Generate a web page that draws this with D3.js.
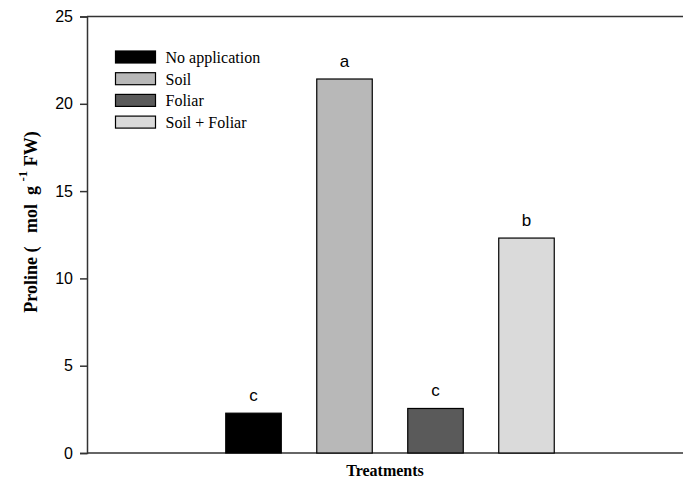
<!DOCTYPE html>
<html>
<head>
<meta charset="utf-8">
<script src="https://cdn.jsdelivr.net/npm/d3@7"></script>
<style>
  body { margin: 0; background: #fff; }
  svg { display: block; }
</style>
</head>
<body>
<svg width="683" height="479"></svg>
<script>
var treatments = ["No application", "Soil", "Foliar", "Soil + Foliar"];
var proline = [2.28, 21.42, 2.55, 12.31];
var letters = ["c", "a", "c", "b"];
var colors = ["#000000", "#b8b8b8", "#5a5a5a", "#dadada"];
var yTicks = [0, 5, 10, 15, 20, 25];

var svg = d3.select("svg"),
    width = +svg.attr("width"),
    height = +svg.attr("height");

var plotLeft = 87, plotRight = 683, plotTop = 16.5, plotBottom = 453;

// bar positions are index based, axis runs a bit wider on both sides
var x = d3.scaleLinear()
    .domain([-1.83, 4.72])
    .range([plotLeft, plotRight]);

var y = d3.scaleLinear()
    .domain([0, 25])
    .range([plotBottom, plotTop]);

var barW = x(0.61) - x(0);

// frame lines (top and bottom), left axis
svg.append("line")
    .attr("x1", plotLeft).attr("x2", plotRight)
    .attr("y1", plotTop).attr("y2", plotTop)
    .attr("stroke", "#333").attr("stroke-width", 1.5);

svg.append("line")
    .attr("x1", plotLeft).attr("x2", plotRight)
    .attr("y1", plotBottom).attr("y2", plotBottom)
    .attr("stroke", "#333").attr("stroke-width", 1.5);

var yAxis = svg.append("g")
    .attr("transform", "translate(" + plotLeft + ",0)")
    .call(d3.axisLeft(y).tickValues(yTicks).tickSize(7).tickPadding(7));

yAxis.select(".domain").attr("stroke", "#333").attr("stroke-width", 1.5);
yAxis.selectAll(".tick line").attr("stroke", "#333").attr("stroke-width", 1.5);
yAxis.selectAll(".tick text")
    .style("font-family", "'Liberation Sans', Arial, sans-serif")
    .style("font-size", "16px")
    .attr("fill", "#000");

// bars
svg.append("g")
    .selectAll("rect")
    .data(proline)
    .enter().append("rect")
        .attr("x", function(d, i) { return x(i) - barW / 2; })
        .attr("y", function(d) { return y(d); })
        .attr("width", barW)
        .attr("height", function(d) { return y(0) - y(d); })
        .attr("fill", function(d, i) { return colors[i]; })
        .attr("stroke", "#000")
        .attr("stroke-width", 1.2);

// significance letters
svg.append("g")
    .selectAll("text")
    .data(proline)
    .enter().append("text")
        .attr("x", function(d, i) { return x(i); })
        .attr("y", function(d) { return y(d) - 12; })
        .attr("text-anchor", "middle")
        .style("font-family", "'Liberation Sans', Arial, sans-serif")
        .style("font-size", "17px")
        .text(function(d, i) { return letters[i]; });

// legend
var legend = svg.append("g")
    .attr("transform", "translate(115.5,51)");

var rows = legend.selectAll("g")
    .data(treatments)
    .enter().append("g")
        .attr("transform", function(d, i) { return "translate(0," + (i * 21.7) + ")"; });

rows.append("rect")
    .attr("width", 40)
    .attr("height", 12)
    .attr("fill", function(d, i) { return colors[i]; })
    .attr("stroke", "#000")
    .attr("stroke-width", 1.2);

rows.append("text")
    .attr("x", 50)
    .attr("y", 12)
    .style("font-family", "'Liberation Serif', 'Times New Roman', serif")
    .style("font-size", "16px")
    .text(function(d) { return d; });

// axis titles
svg.append("text")
    .attr("x", (plotLeft + plotRight) / 2)
    .attr("y", 476)
    .attr("text-anchor", "middle")
    .style("font-family", "'Liberation Serif', 'Times New Roman', serif")
    .style("font-size", "16px")
    .style("font-weight", "bold")
    .text("Treatments");

var ylab = svg.append("text")
    .attr("transform", "translate(37,222) rotate(-90)")
    .attr("text-anchor", "middle")
    .style("font-family", "'Liberation Serif', 'Times New Roman', serif")
    .style("font-size", "18px")
    .style("font-weight", "bold");

ylab.append("tspan").text("Proline (\u00a0\u00a0 mol\u00a0 g\u00a0");
ylab.append("tspan").attr("dy", -10).style("font-size", "13px").text("-1");
ylab.append("tspan").attr("dy", 10).text("\u00a0FW)");
</script>
</body>
</html>
